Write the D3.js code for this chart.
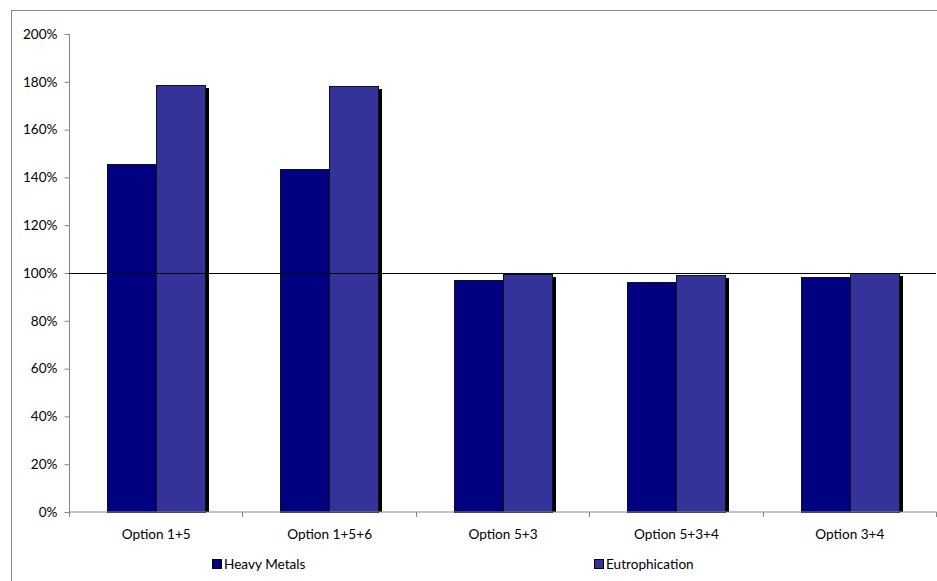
<!DOCTYPE html>
<html>
<head>
<meta charset="utf-8">
<script src="https://cdn.jsdelivr.net/npm/d3@7"></script>
<style>
  html, body { margin: 0; padding: 0; background: #fff; }
  svg text { font-family: Lato, "Open Sans", "Liberation Sans", sans-serif; font-size: 13.6px; fill: #000; }
</style>
</head>
<body>
<svg id="chart" width="937" height="581"></svg>
<script>
const categories = ["Option 1+5", "Option 1+5+6", "Option 5+3", "Option 5+3+4", "Option 3+4"];
const seriesNames = ["Heavy Metals", "Eutrophication"];
const heavyMetals = [1.453, 1.435, 0.969, 0.959, 0.981];
const eutrophication = [1.786, 1.782, 0.992, 0.990, 0.997];
const seriesColors = ["#000080", "#333399"];
const yTicks = [0, 0.2, 0.4, 0.6, 0.8, 1.0, 1.2, 1.4, 1.6, 1.8, 2.0];
const referenceValue = 1.0;

(function () {
const svg = d3.select("#chart");
const pLeft = 69, pRight = 936, pTop = 33.5, pBottom = 511.5;

// outer chart border
svg.append("rect").attr("x", 11.5).attr("y", 10.5).attr("width", 940).attr("height", 600)
  .attr("fill", "none").attr("stroke", "#888").attr("stroke-width", 1);

const x0 = d3.scaleBand().domain(categories).range([pLeft, pRight]).paddingInner(0).paddingOuter(0);
const x1 = d3.scaleBand().domain(seriesNames).range([0, x0.bandwidth()]).paddingInner(0).paddingOuter(0.77);
const y = d3.scaleLinear().domain([0, 2]).range([pBottom, pTop]);

const data = categories.map((c, i) => ({ cat: c, vals: [heavyMetals[i], eutrophication[i]] }));

const groups = svg.append("g").selectAll("g").data(data).join("g")
  .attr("transform", d => `translate(${Math.round(x0(d.cat))},0)`);

// shadows
groups.selectAll("rect.shadow").data(d => d.vals.map((v, j) => ({ v, s: seriesNames[j] })))
  .join("rect").attr("class", "shadow")
  .attr("x", d => Math.round(x1(d.s)) + 3)
  .attr("y", d => Math.round(y(d.v)) + 3)
  .attr("width", Math.round(x1.bandwidth()) + 1)
  .attr("height", d => Math.round(y(0)) - Math.round(y(d.v)) - 3)
  .attr("fill", "#000");

groups.selectAll("rect.bar").data(d => d.vals.map((v, j) => ({ v, s: seriesNames[j], j })))
  .join("rect").attr("class", "bar")
  .attr("x", d => Math.round(x1(d.s)) + 0.5)
  .attr("y", d => Math.round(y(d.v)) + 0.5)
  .attr("width", Math.round(x1.bandwidth()))
  .attr("height", d => Math.round(y(0)) - Math.round(y(d.v)))
  .attr("fill", d => seriesColors[d.j])
  .attr("stroke", "#111").attr("stroke-width", 1);

// y axis
const yAxis = svg.append("g").attr("transform", `translate(${pLeft + 0.5},0.5)`)
  .call(d3.axisLeft(y).tickValues(yTicks).tickFormat(d3.format(".0%")).tickSize(5).tickPadding(7));
yAxis.select(".domain").attr("stroke", "#868686").attr("d", `M0,${pTop}V${pBottom}`);
yAxis.selectAll(".tick line").attr("stroke", "#868686");
yAxis.selectAll(".tick text").attr("font-size", null).attr("font-family", null);

// x axis
const xAxis = svg.append("g").attr("transform", `translate(0.5,${pBottom + 0.5})`)
  .call(d3.axisBottom(x0).tickSize(0).tickPadding(17));
xAxis.select(".domain").attr("stroke", "#868686").attr("d", `M${pLeft},0H${pRight}`);
xAxis.selectAll(".tick text").attr("font-size", null).attr("font-family", null);
const boundaries = categories.map(c => x0(c)).concat([pRight]);
xAxis.selectAll("line.bound").data(boundaries).join("line").attr("class", "bound")
  .attr("x1", d => Math.round(d)).attr("x2", d => Math.round(d))
  .attr("y1", 0).attr("y2", 5).attr("stroke", "#868686");

// reference line at 100%
svg.append("line")
  .attr("x1", pLeft).attr("x2", pRight)
  .attr("y1", Math.round(y(referenceValue)) + 0.5).attr("y2", Math.round(y(referenceValue)) + 0.5)
  .attr("stroke", "#000").attr("stroke-width", 1);

// legend
const legendX = [212, 594];
const legend = svg.append("g").selectAll("g").data(seriesNames).join("g")
  .attr("transform", (d, i) => `translate(${legendX[i]},559)`);
legend.append("rect").attr("x", 0.5).attr("y", 0.5).attr("width", 9).attr("height", 9)
  .attr("fill", (d, i) => seriesColors[i]).attr("stroke", "#000");
legend.append("text").attr("x", 12).attr("y", 5).attr("dy", "0.35em").text(d => d);
})();
</script>
</body>
</html>
